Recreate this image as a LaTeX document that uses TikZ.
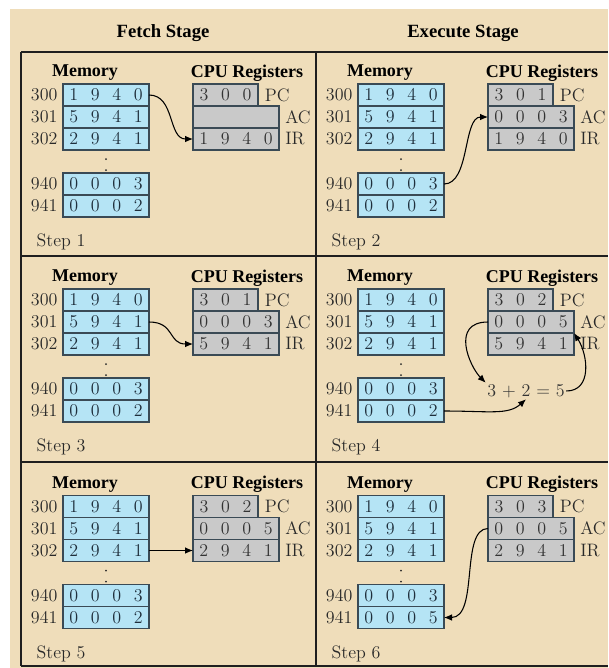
\documentclass[tikz,border=0pt]{standalone}
\usepackage{fontspec}
\newfontfamily\serifNegrita{Liberation Serif}
\usetikzlibrary{arrows.meta, positioning}
\definecolor{pergamino}{HTML}{EFDDBA}
\definecolor{celeste}{HTML}{B5E4F5}
\definecolor{grisreg}{HTML}{C9C9C9}
\definecolor{pizarra}{HTML}{3A4A55}
\definecolor{tintamem}{HTML}{1F2F3C}
\definecolor{tintareg}{HTML}{333333}
\colorlet{colBorde}{pizarra}
\colorlet{colMem}{celeste}
\colorlet{colReg}{grisreg}
\colorlet{colTexto}{tintareg!80!black}
\newcommand{\cifra}{\fontsize{13.5}{15}\selectfont}
\newcommand{\cuatro}[4]{\makebox[16.125pt]{#1}\makebox[16.125pt]{#2}\makebox[16.125pt]{#3}\makebox[16.125pt]{#4}}
\newcommand{\tres}[3]{\makebox[16.125pt]{#1}\makebox[16.125pt]{#2}\makebox[16.125pt]{#3}}
\tikzset{
  cajaMem/.style={
    draw=colBorde, line width=1.1pt, fill=colMem,
    minimum width=64.5pt, minimum height=16.5pt,
    inner sep=0pt, outer sep=0pt, text=tintamem, font=\cifra
  },
  cajaReg/.style={cajaMem, fill=colReg, text=tintareg},
  cajaPC/.style={cajaReg, minimum width=48.75pt},
  etiqueta/.style={text=colTexto, font=\cifra, inner sep=1pt},
  tituloCaja/.style={font=\serifNegrita\fontsize{13.5}{16}\selectfont\bfseries, inner sep=0pt},
  tituloEtapa/.style={font=\serifNegrita\fontsize{14}{16}\selectfont\bfseries, inner sep=0pt},
  flecha/.style={-{Latex[length=6pt, width=5pt]}, line width=0.8pt, black},
  rejilla/.style={line width=1.7pt, black!88},
}
% one step of the cycle: name, origin x, origin y, PC, AC, IR, cell 941, label
\newcommand{\celda}[8]{%
  \begin{scope}[shift={(#2,-#3)}]
    % Memory
    \node[tituloCaja] (#1-tm) at (64,-21) {Memory};
    \node[cajaMem] (#1-300) at (85,-43) {\cuatro1940};
    \node[cajaMem, below=0pt of #1-300] (#1-301) {\cuatro5941};
    \node[cajaMem, below=0pt of #1-301] (#1-302) {\cuatro2941};
    \node[cajaMem] (#1-940) at (85,-132) {\cuatro0003};
    \node[cajaMem, below=0pt of #1-940] (#1-941) {#7};
    \foreach \n in {300,301,302,940,941}
      \node[etiqueta, left=3pt of #1-\n] (#1-d\n) {\n};
    \fill[colTexto] (85,-107) circle (1) (85,-118) circle (1);
    % CPU registers
    \node[tituloCaja] (#1-tr) at (226,-21) {CPU Registers};
    \node[cajaPC] (#1-pc) at (204.5,-43) {#4};
    \node[cajaReg, anchor=north west] (#1-ac) at (#1-pc.south west) {#5};
    \node[cajaReg, below=0pt of #1-ac] (#1-ir) {#6};
    \node[etiqueta, right=4pt of #1-pc] (#1-lpc) {PC};
    \node[etiqueta, right=3.5pt of #1-ac] (#1-lac) {AC};
    \node[etiqueta, right=3.5pt of #1-ir] (#1-lir) {IR};
    \node[etiqueta, anchor=west] (#1-paso) at (14,-190) {#8};
  \end{scope}}

\begin{document}
\begin{tikzpicture}[x=0.75pt, y=0.75pt]
  \useasboundingbox (0,0) rectangle (608,-668);
  \fill[white] (0,0) rectangle (608,-668);
  \fill[pergamino] (10,-9) rectangle (608,-668);

  % Stages
  \node[tituloEtapa] (fetch) at (163,-33) {Fetch Stage};
  \node[tituloEtapa] (exec) at (463,-33) {Execute Stage};
  \foreach \y in {52,256,462,666}
    \draw[rejilla] (21,-\y) -- (608,-\y);
  \draw[rejilla] (21,-52) -- (21,-666);
  \draw[rejilla] (316,-52) -- (316,-666);

  % Steps
  \celda{c1}{21}{52}{\tres300}{}{\cuatro1940}{\cuatro0002}{Step 1}
  \celda{c2}{316}{52}{\tres301}{\cuatro0003}{\cuatro1940}{\cuatro0002}{Step 2}
  \celda{c3}{21}{257}{\tres301}{\cuatro0003}{\cuatro5941}{\cuatro0002}{Step 3}
  \celda{c4}{316}{257}{\tres302}{\cuatro0005}{\cuatro5941}{\cuatro0002}{Step 4}
  \celda{c5}{21}{463.5}{\tres302}{\cuatro0005}{\cuatro2941}{\cuatro0002}{Step 5}
  \celda{c6}{316}{463.5}{\tres303}{\cuatro0005}{\cuatro2941}{\cuatro0005}{Step 6}
  \node[etiqueta, text=tintareg] (c4-suma) at (526,-391) {3 + 2 = 5};

  \draw[flecha] (c1-300.east) .. controls +(26,0) and +(-25,0) .. (c1-ir.west);
  \draw[flecha] (c2-940.east) .. controls +(26,0) and +(-25,0) .. (c2-ac.west);
  \draw[flecha] (c3-301.east) .. controls +(26,0) and +(-25,0) .. (c3-ir.west);
  \draw[flecha] (c4-ac.west) .. controls +(-38,0) and +(-16,16) .. (c4-suma.north west);
  \draw[flecha] (c4-941.east) .. controls +(45,0) and +(-18,-16) .. (c4-suma.south);
  \draw[flecha] (c4-suma.east) .. controls +(26,0) and +(14,-22) .. (c4-ac.south east);
  \draw[flecha] (c5-302.east) -- (c5-ir.west);
  \draw[flecha] (c6-ac.west) .. controls +(-28,0) and +(35,0) .. (c6-941.east);
\end{tikzpicture}
\end{document}
